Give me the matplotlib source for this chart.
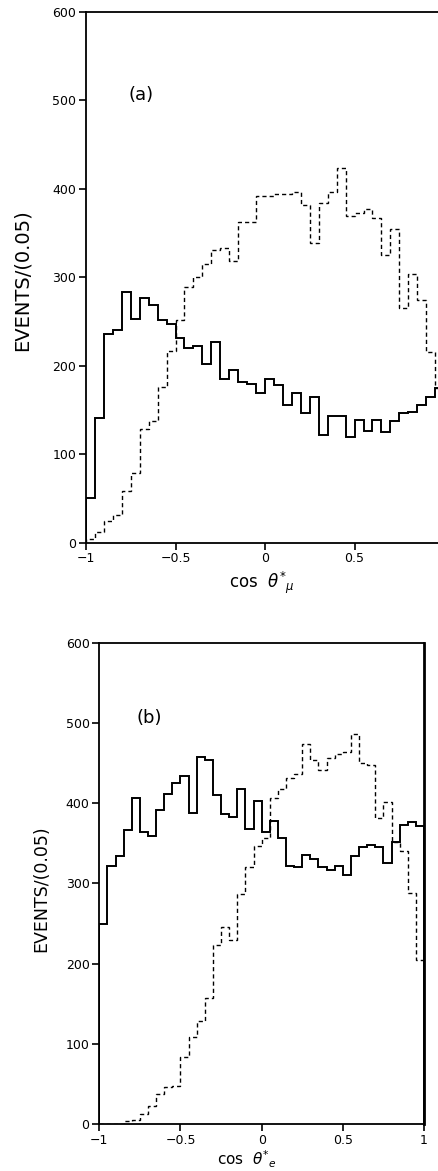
"""Distributions angulaires cos theta* (muon et electron), deux panneaux."""

import numpy as np
import matplotlib
matplotlib.use("Agg")
import matplotlib.pyplot as plt

BORDS = np.linspace(-1, 1, 41)

# panneau (a) : cos theta*_mu
MU_PLEIN = [50, 141, 236, 240, 283, 253, 276, 268, 252, 247,
            231, 220, 222, 202, 227, 185, 195, 182, 179, 169,
            185, 178, 156, 169, 147, 164, 122, 143, 143, 119,
            139, 126, 139, 125, 137, 146, 148, 155, 165, 175]
MU_TIRETS = [4, 12, 24, 31, 58, 79, 128, 137, 176, 217,
             252, 289, 300, 315, 331, 333, 318, 362, 362, 392,
             392, 394, 394, 396, 381, 339, 384, 396, 423, 369,
             372, 377, 367, 325, 354, 265, 303, 274, 215, 175]

# panneau (b) : cos theta*_e
E_PLEIN = [249, 322, 334, 366, 407, 364, 359, 391, 412, 425,
           434, 388, 457, 454, 410, 387, 383, 418, 368, 403,
           364, 378, 356, 322, 320, 335, 331, 320, 317, 322,
           310, 334, 345, 348, 346, 326, 352, 373, 377, 371]
E_TIRETS = [0, 0, 0, 4, 5, 12, 22, 37, 46, 47,
            84, 109, 128, 157, 223, 246, 229, 287, 321, 347,
            356, 406, 418, 432, 436, 474, 454, 441, 456, 461,
            464, 486, 450, 448, 382, 401, 352, 340, 288, 204]

Y_TICKS = [0, 100, 200, 300, 400, 500, 600]
X_TICKS = [-1, -0.5, 0, 0.5, 1]
X_LABELS = ["\u22121", "\u22120.5", "0", "0.5", "1"]


def dessiner(ax, plein, tirets, xmax, nticks, xlabel, lettre, taille_y, taille_x):
    ax.stairs(plein, BORDS, baseline=0, color="black", linewidth=1.4)
    ax.stairs(tirets, BORDS, baseline=0, color="black", linewidth=1.0,
              linestyle=(0, (3.0, 2.2)))
    ax.set_xlim(-1, xmax)
    ax.set_ylim(0, 600)
    ax.set_yticks(Y_TICKS)
    ax.set_xticks(X_TICKS[:nticks])
    ax.set_xticklabels(X_LABELS[:nticks])
    ax.tick_params(direction="out", length=5, width=1.2, labelsize=9, pad=2)
    for s in ax.spines.values():
        s.set_linewidth(1.3)
    ax.set_ylabel("EVENTS/(0.05)", fontsize=taille_y)
    ax.set_xlabel(xlabel, fontsize=taille_x, labelpad=3)
    ax.text(-0.69, 506, lettre, fontsize=13, ha="center", va="center")


fig = plt.figure(figsize=(4.38, 11.71), dpi=100)

ax_a = fig.add_axes([0.1963, 0.5366, 0.8037, 0.4535])
dessiner(ax_a, MU_PLEIN, MU_TIRETS, 0.966, 4,
         r"cos  $\theta^{*}{}_{\mu}$", "(a)", 14, 12)
ax_a.spines["right"].set_visible(False)
ax_a.yaxis.set_label_coords(-0.153, 0.495)

ax_b = fig.add_axes([0.2267, 0.0401, 0.7413, 0.411])
dessiner(ax_b, E_PLEIN, E_TIRETS, 1.0, 5,
         r"cos  $\theta^{*}{}_{e}$", "(b)", 12.5, 11)
ax_b.spines["right"].set_linewidth(2.0)
ax_b.yaxis.set_label_coords(-0.152, 0.49)
ax_b.xaxis.set_label_coords(0.455, -0.085)
ax_b.xaxis.label.set_va("baseline")

fig.savefig("out.png", dpi=100)
